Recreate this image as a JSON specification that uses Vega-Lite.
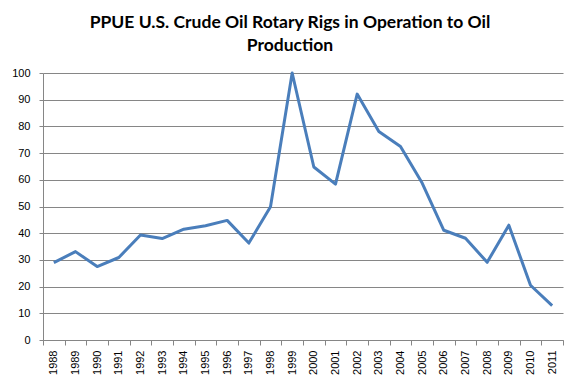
{
  "$schema": "https://vega.github.io/schema/vega-lite/v6.json",
  "autosize": "none",
  "width": 520,
  "height": 267,
  "padding": {"left": 43, "top": 73, "right": 15, "bottom": 46},
  "background": "white",
  "title": {
    "text": ["PPUE U.S. Crude Oil Rotary Rigs in Operation to Oil", "Production"],
    "font": "Lato",
    "fontSize": 17.5,
    "fontWeight": "bold",
    "color": "#000000",
    "anchor": "middle",
    "lineHeight": 23,
    "offset": 13,
    "dx": -13
  },
  "data": {
    "values": [
      {"year": "1988", "v": 29.0},
      {"year": "1989", "v": 33.1},
      {"year": "1990", "v": 27.5},
      {"year": "1991", "v": 30.9},
      {"year": "1992", "v": 39.3},
      {"year": "1993", "v": 38.0},
      {"year": "1994", "v": 41.5},
      {"year": "1995", "v": 42.8},
      {"year": "1996", "v": 44.8},
      {"year": "1997", "v": 36.3},
      {"year": "1998", "v": 49.9},
      {"year": "1999", "v": 100.0},
      {"year": "2000", "v": 64.8},
      {"year": "2001", "v": 58.4},
      {"year": "2002", "v": 92.1},
      {"year": "2003", "v": 78.1},
      {"year": "2004", "v": 72.5},
      {"year": "2005", "v": 58.8},
      {"year": "2006", "v": 41.1},
      {"year": "2007", "v": 38.1},
      {"year": "2008", "v": 29.1},
      {"year": "2009", "v": 43.0},
      {"year": "2010", "v": 20.5},
      {"year": "2011", "v": 12.9}
    ]
  },
  "mark": {"type": "line", "color": "#4A7EBB", "strokeWidth": 3, "strokeJoin": "round"},
  "encoding": {
    "x": {
      "field": "year",
      "type": "ordinal",
      "bandPosition": 0.5,
      "scale": {"type": "band", "paddingInner": 0, "paddingOuter": 0},
      "axis": {
        "title": null,
        "tickBand": "extent",
        "labelAngle": -90,
        "labelFont": "Liberation Sans",
        "labelFontSize": 11,
        "labelColor": "#000000",
        "labelPadding": 5,
        "domainColor": "#868686",
        "tickColor": "#868686",
        "tickSize": 5,
        "grid": false
      }
    },
    "y": {
      "field": "v",
      "type": "quantitative",
      "scale": {"domain": [0, 100], "nice": false},
      "axis": {
        "title": null,
        "values": [0, 10, 20, 30, 40, 50, 60, 70, 80, 90, 100],
        "labelFont": "Liberation Sans",
        "labelFontSize": 11,
        "labelColor": "#000000",
        "labelPadding": 9,
        "domainColor": "#868686",
        "tickColor": "#868686",
        "tickSize": 4,
        "grid": true,
        "gridColor": "#868686",
        "gridWidth": 1
      }
    }
  },
  "config": {"view": {"stroke": null}}
}
